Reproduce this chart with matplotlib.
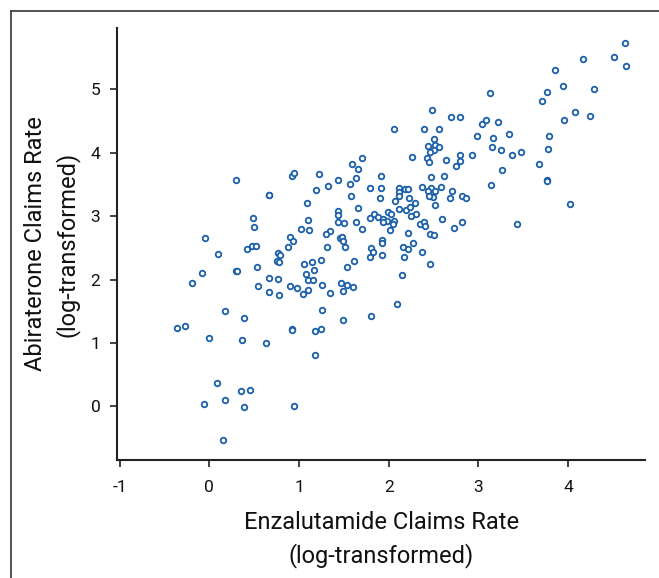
import matplotlib
matplotlib.use("Agg")
import matplotlib.pyplot as plt
from matplotlib.lines import Line2D

plt.rcParams['font.family'] = ['Roboto', 'DejaVu Sans']
plt.rcParams['axes.unicode_minus'] = False

enzalutamide = [
    0.30, 0.49, 0.50, -0.05, 0.10, 0.42, 0.48, 0.52, -0.08, 0.30, 0.31, 0.53, -0.19, 0.54,
    0.18, 0.39, -0.36, -0.27, 0.00, 0.36, 0.09, 0.35, 0.45, -0.06, 0.18, 0.39, 0.15,
    0.92, 0.92, 1.18, 1.25, 1.26, 0.63, 1.18, 0.94, 1.49,
    0.67, 0.77, 0.67, 0.78, 0.90, 0.98, 1.05, 1.10, 1.26, 1.34, 1.47, 1.49, 1.08, 1.10,
    1.16, 1.17, 1.06, 1.14, 1.25, 0.75, 0.78,
    0.92, 0.94, 1.22, 0.66, 0.67, 1.44, 1.32, 1.19, 1.09, 1.44, 1.44, 1.10, 1.43, 1.02,
    1.11, 1.34, 1.30, 0.90, 0.93, 0.88, 1.31, 1.46, 1.48, 1.49, 0.77, 0.79,
    2.06, 2.39, 2.26, 1.70, 1.59, 1.66, 1.64, 1.57, 1.91, 1.79, 1.91, 1.58, 1.90, 2.12,
    2.18, 2.21, 2.37, 2.12, 2.12, 2.23, 2.07, 2.29, 1.66, 2.11, 2.19, 2.24, 2.30, 2.25,
    1.99, 2.03, 1.84, 1.88, 1.79, 1.94, 1.98, 2.06, 1.94, 2.05, 1.63, 1.50, 2.35, 1.70, 2.01,
    2.21, 1.51, 1.92, 1.92, 1.80, 1.83, 1.79, 1.92, 2.16, 2.21, 2.27, 2.37, 2.17, 1.61,
    1.54, 2.15, 1.54, 1.60, 2.09, 1.80,
    3.13, 2.48, 2.70, 2.80, 3.04, 3.09, 3.22, 2.56, 2.98, 3.16, 2.50, 2.52, 2.56, 2.44,
    2.50, 2.46, 3.15, 3.25, 2.79, 2.93, 2.43, 2.45, 2.64, 2.80, 2.75, 3.26, 2.47, 2.62,
    2.47, 2.44, 2.52, 2.58, 2.71, 3.14, 2.49, 2.45, 2.68, 2.82, 2.86,
    2.52, 2.59, 2.82, 2.39, 2.41, 2.73, 2.46, 2.51, 2.46,
    4.63, 4.51, 4.65, 4.17, 3.85, 3.94, 4.29, 3.76, 3.71, 4.08, 4.25, 3.96, 3.34, 3.79,
    3.38, 3.48, 3.78, 3.68, 3.76, 3.76, 4.02, 3.43,
]

abiraterone = [
    3.57, 2.97, 2.83, 2.66, 2.41, 2.48, 2.53, 2.53, 2.11, 2.14, 2.13, 2.19, 1.95, 1.90,
    1.51, 1.39, 1.24, 1.27, 1.08, 1.05, 0.36, 0.24, 0.26, 0.03, 0.10, -0.01, -0.53,
    1.22, 1.20, 1.19, 1.22, 1.52, 1.00, 0.81, 0.01, 1.36,
    2.02, 2.01, 1.81, 1.76, 1.89, 1.87, 1.77, 1.83, 1.92, 1.79, 1.94, 1.82, 2.08, 1.99,
    1.99, 2.15, 2.24, 2.28, 2.31, 2.30, 2.27,
    3.64, 3.68, 3.66, 3.34, 3.33, 3.57, 3.47, 3.41, 3.20, 3.08, 3.02, 2.94, 2.90, 2.80,
    2.78, 2.76, 2.72, 2.67, 2.60, 2.52, 2.52, 2.65, 2.67, 2.60, 2.42, 2.38,
    4.37, 4.38, 3.94, 3.91, 3.82, 3.75, 3.61, 3.51, 3.64, 3.45, 3.44, 3.32, 3.29, 3.45,
    3.43, 3.43, 3.46, 3.38, 3.32, 3.29, 3.24, 3.21, 3.13, 3.12, 3.10, 3.14, 3.04, 3.00,
    3.07, 3.03, 3.03, 2.99, 2.97, 2.95, 2.93, 2.93, 2.91, 2.87, 2.90, 2.89, 2.88, 2.79, 2.78,
    2.73, 2.51, 2.62, 2.57, 2.49, 2.44, 2.36, 2.39, 2.51, 2.48, 2.58, 2.44, 2.36, 2.30,
    2.20, 2.07, 1.92, 1.88, 1.61, 1.42,
    4.94, 4.67, 4.57, 4.56, 4.46, 4.51, 4.48, 4.37, 4.26, 4.23, 4.22, 4.13, 4.09, 4.10,
    4.04, 4.01, 4.09, 4.04, 3.97, 3.97, 3.91, 3.86, 3.88, 3.87, 3.79, 3.73, 3.62, 3.63,
    3.45, 3.40, 3.40, 3.46, 3.40, 3.49, 3.30, 3.32, 3.28, 3.32, 3.28,
    3.17, 2.96, 2.91, 2.91, 2.85, 2.81, 2.72, 2.71, 2.24,
    5.73, 5.51, 5.37, 5.48, 5.31, 5.05, 5.00, 4.96, 4.82, 4.65, 4.58, 4.52, 4.29, 4.26,
    3.96, 4.02, 4.06, 3.83, 3.57, 3.55, 3.19, 2.88,
]

x_ticks = [-1, 0, 1, 2, 3, 4]
y_ticks = [0, 1, 2, 3, 4, 5]
x_label = "Enzalutamide Claims Rate\n(log-transformed)"
y_label = "Abiraterone Claims Rate\n(log-transformed)"

fig = plt.figure(figsize=(6.59, 5.78), dpi=100)
ax = fig.add_axes([0.1775, 0.204, 0.979 - 0.1775, 0.9516 - 0.204])

ax.scatter(enzalutamide, abiraterone, s=16, facecolors='white',
           edgecolors='#1a5fab', linewidths=1.3, zorder=3)

ax.set_xlim(-1.03, 4.86)
ax.set_ylim(-0.85, 5.97)
ax.set_xticks(x_ticks)
ax.set_yticks(y_ticks)
ax.set_xticklabels([str(t) for t in x_ticks])
ax.set_yticklabels([str(t) for t in y_ticks])

for s in ['top', 'right']:
    ax.spines[s].set_visible(False)
for s in ['left', 'bottom']:
    ax.spines[s].set_linewidth(1.5)
    ax.spines[s].set_color('#222222')

ax.tick_params(axis='both', length=5, width=1.3, color='#333333',
               labelsize=12.5, labelcolor='#111111')
ax.tick_params(axis='x', pad=9)
ax.tick_params(axis='y', pad=7)

ax.set_xlabel(x_label, fontsize=17, linespacing=1.45, labelpad=12, color='#111111')
ax.set_ylabel(y_label, fontsize=17, linespacing=1.4, labelpad=8, color='#111111')

# figure frame (left and top edges)
fig.add_artist(Line2D([0.0160, 0.0160], [0.0, 0.981], transform=fig.transFigure,
                      color='#444444', linewidth=1.3))
fig.add_artist(Line2D([0.0160, 1.0], [0.981, 0.981], transform=fig.transFigure,
                      color='#444444', linewidth=1.3))

fig.savefig("out.png", dpi=100)
